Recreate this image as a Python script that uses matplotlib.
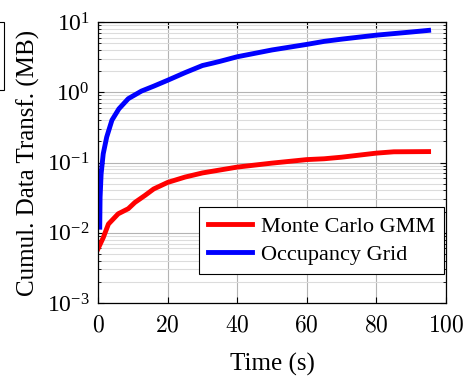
import matplotlib
matplotlib.use("Agg")
import matplotlib.pyplot as plt
from matplotlib.patches import Rectangle
from matplotlib.ticker import LogLocator, NullFormatter

# data
grid_t = [0.5, 0.6, 0.9, 1.5, 2.5, 4, 6, 8.7, 12.5, 16, 20, 25, 30, 33, 35, 40, 50, 60,
          65, 70, 80, 90, 95]
grid_mb = [0.012, 0.032, 0.069, 0.133, 0.23, 0.40, 0.58, 0.81, 1.04, 1.22, 1.48, 1.9,
           2.4, 2.6, 2.75, 3.2, 4.0, 4.8, 5.3, 5.7, 6.5, 7.2, 7.6]

gmm_t = [0, 1.5, 3, 5.8, 8.7, 10.6, 13.5, 16, 20, 25, 30, 40, 50, 60, 65, 70, 80, 85, 95]
gmm_mb = [0.0059, 0.0085, 0.0133, 0.0186, 0.022, 0.027, 0.034, 0.042, 0.052, 0.062,
          0.071, 0.086, 0.098, 0.11, 0.113, 0.119, 0.136, 0.142, 0.143]

plt.rcParams["font.family"] = ["Liberation Serif", "DejaVu Serif"]
plt.rcParams["mathtext.fontset"] = "cm"

fig = plt.figure(figsize=(4.63, 3.78), dpi=100)
ax = fig.add_axes([98 / 463, 1 - 303 / 378, 348 / 463, 281 / 378])

ax.plot(gmm_t, gmm_mb, color="red", lw=3.5, label="Monte Carlo GMM")
ax.plot(grid_t, grid_mb, color="blue", lw=3.5, label="Occupancy Grid")

ax.set_yscale("log")
ax.set_xlim(0, 100)
ax.set_ylim(1e-3, 1e1)
ax.set_xticks([0, 20, 40, 60, 80, 100])
ax.set_xticklabels([r"$0$", r"$20$", r"$40$", r"$60$", r"$80$", r"$100$"])
ax.yaxis.set_major_locator(LogLocator(base=10, numticks=10))
ax.yaxis.set_minor_locator(LogLocator(base=10, subs=range(2, 10), numticks=10))
ax.yaxis.set_minor_formatter(NullFormatter())

ax.grid(True, which="major", color="#b3b3b3", lw=0.8)
ax.grid(True, which="minor", axis="y", color="#dcdcdc", lw=0.8)
ax.set_axisbelow(True)
ax.tick_params(which="both", direction="in", top=True, right=True, labelsize=17)
ax.tick_params(axis="x", pad=9)
ax.tick_params(axis="y", pad=6)
ax.tick_params(which="major", length=4)
ax.tick_params(which="minor", length=2)
for s in ax.spines.values():
    s.set_linewidth(0.9)

ax.set_xlabel("Time (s)", fontsize=18, labelpad=12)
ax.set_ylabel("Cumul. Data Transf. (MB)", fontsize=18, labelpad=5)

leg = ax.legend(loc="lower right", fontsize=16, fancybox=False, framealpha=1,
                edgecolor="black", handlelength=2.0, handletextpad=0.4,
                borderpad=0.4, labelspacing=0.35, borderaxespad=0,
                bbox_to_anchor=(0.994, 0.103))
leg.get_frame().set_linewidth(0.8)

# cut-off box at the left edge
fig.patches.append(Rectangle((-0.02, 1 - 90 / 378), 0.029, 68 / 378,
                             transform=fig.transFigure, fill=False,
                             edgecolor="black", lw=0.8))

fig.savefig("out.png", dpi=100)
